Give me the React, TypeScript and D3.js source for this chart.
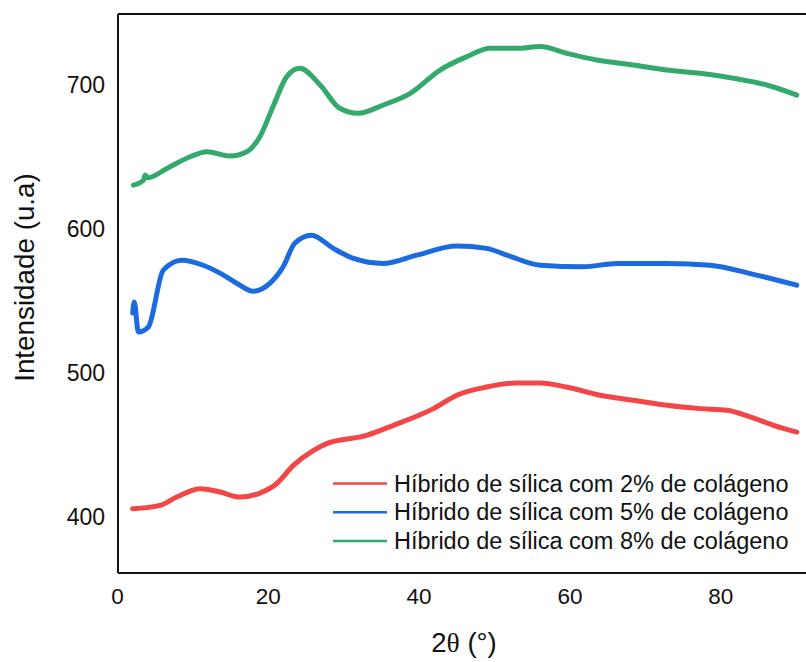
import React from "react";
import * as d3 from "d3";

const xTicks = [0, 20, 40, 60, 80];
const yTicks = [400, 500, 600, 700];
const seriesNames = [
  "Híbrido de sílica com 2% de colágeno",
  "Híbrido de sílica com 5% de colágeno",
  "Híbrido de sílica com 8% de colágeno",
];
const seriesColors = ["#f44646", "#1b6ade", "#33aa6c"];

const red2x = [2.0, 5.64, 7.85, 10.95, 13.59, 16.28, 18.88, 21.1, 23.32, 26.01, 27.75, 33.05, 36.61, 41.91, 45.0, 48.95, 52.9, 56.08, 59.54, 63.98, 68.41, 72.84, 77.27, 80.84, 83.92, 87.0, 90.09];
const red2y = [405.4, 407.7, 413.5, 419.3, 417, 413.5, 416.3, 422.8, 435.5, 446, 450.7, 456.4, 463.4, 475.0, 484.3, 490.0, 492.8, 492.8, 490.0, 484.3, 480.8, 477.3, 475.0, 473.8, 469.2, 463.4, 458.7];

const blue5x = [2.02, 2.22, 2.76, 4.09, 6.07, 8.52, 11.37, 13.59, 15.8, 18.02, 20.23, 21.97, 23.51, 25.73, 28.62, 31.31, 35.26, 39.7, 45.0, 48.95, 51.64, 56.08, 61.76, 66.19, 72.84, 78.62, 83.92, 90.09];
const blue5y = [541.5, 549.2, 528.3, 531.8, 571.3, 578.2, 574.7, 569.2, 562.2, 556.6, 562.2, 573.6, 590, 595.6, 586.4, 579.4, 575.9, 581.7, 588.0, 586.4, 581.7, 574.7, 573.6, 575.9, 575.9, 574.7, 568.9, 560.8];

const green8x = [2.12, 3.47, 3.66, 4.05, 6.55, 9.64, 11.85, 14.93, 17.15, 18.88, 20.62, 22.45, 24.18, 26.88, 29.48, 31.89, 35.26, 38.83, 42.78, 46.34, 49.43, 52.99, 56.08, 59.54, 63.59, 68.41, 72.84, 77.27, 81.7, 86.14, 90.09];
const green8y = [630.4, 634, 637.5, 635.5, 642.0, 650.1, 653.6, 650.6, 653.6, 664.0, 684.9, 705.8, 711.6, 700, 683.8, 680.3, 686.1, 694.2, 710.4, 719.7, 725.5, 725.5, 726.7, 722.1, 717.4, 713.9, 710.4, 708.1, 704.7, 700, 693];

const seriesX = [red2x, blue5x, green8x];
const seriesY = [red2y, blue5y, green8y];

const W = 806;
const H = 662;
const left = 118;
const top = 14;
const bottom = 573;

export default function App() {
  const x = d3.scaleLinear().domain([0, 92]).range([117.5, 117.5 + 92 * 7.54]);
  const y = d3.scaleLinear().domain([400, 700]).range([516.5, 85]);
  const line = d3
    .line<[number, number]>()
    .x((d) => x(d[0]))
    .y((d) => y(d[1]))
    .curve(d3.curveMonotoneX);

  return (
    <svg
      width={W}
      height={H}
      style={{ position: "absolute", left: 0, top: 0, background: "#fff" }}
      fontFamily="'Liberation Sans', Arial, sans-serif"
    >
      <rect x={0} y={0} width={W} height={H} fill="#fff" />
      <g>
        {seriesX.map((xs, i) => {
          const pts = xs.map((v, j) => [v, seriesY[i][j]] as [number, number]);
          return (
            <path
              key={i}
              d={line(pts) || ""}
              fill="none"
              stroke={seriesColors[i]}
              strokeWidth={5}
              strokeLinejoin="round"
              strokeLinecap="round"
            />
          );
        })}
      </g>
      {/* frame */}
      <line x1={left} y1={top} x2={W + 5} y2={top} stroke="#111" strokeWidth={2} />
      <line x1={left} y1={top} x2={left} y2={bottom} stroke="#111" strokeWidth={2} />
      <line x1={left} y1={bottom} x2={W + 5} y2={bottom} stroke="#111" strokeWidth={2} />
      {/* y ticks */}
      {yTicks.map((t) => (
        <text key={t} x={105} y={y(t)} dy="0.36em" textAnchor="end" fontSize={23} fill="#111">
          {t}
        </text>
      ))}
      {xTicks.map((t) => (
        <text key={t} x={x(t)} y={604} textAnchor="middle" fontSize={22.5} fill="#111">
          {t}
        </text>
      ))}
      <text
        transform={`translate(34,277.5) rotate(-90)`}
        textAnchor="middle"
        fontSize={27.8}
        fill="#111"
      >
        Intensidade (u.a)
      </text>
      <text x={464} y={652} textAnchor="middle" fontSize={27.5} fill="#111">
        2<tspan fontFamily="'Liberation Serif', 'Times New Roman', serif">θ</tspan> (°)
      </text>
      {/* legend */}
      {seriesNames.map((n, i) => (
        <g key={n} transform={`translate(333,${483.5 + i * 28.7})`}>
          <line x1={0} y1={0} x2={54} y2={0} stroke={seriesColors[i]} strokeWidth={2.5} />
          <text x={61} y={0} dy="0.35em" fontSize={23.5} fill="#111">
            {n}
          </text>
        </g>
      ))}
    </svg>
  );
}
